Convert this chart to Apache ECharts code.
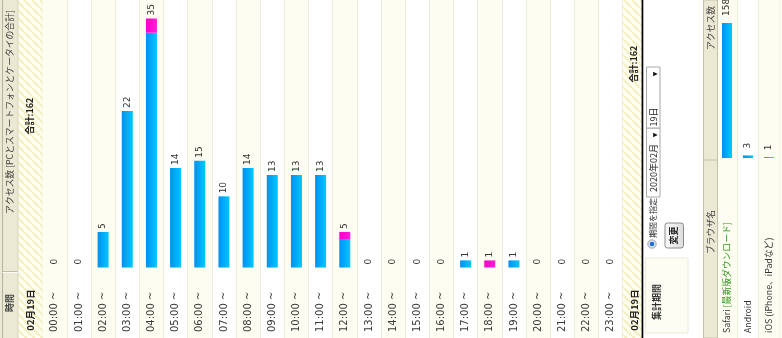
<!DOCTYPE html>
<html><head><meta charset="utf-8">
<script src="https://cdn.jsdelivr.net/npm/echarts@6/dist/echarts.min.js"></script>
<style>html,body{margin:0;padding:0;background:#fff}#c{width:782px;height:338px}</style>
</head><body><div id="c"></div>
<script>
// ---- data ----
const hours = ['00:00 ~','01:00 ~','02:00 ~','03:00 ~','04:00 ~','05:00 ~','06:00 ~','07:00 ~','08:00 ~','09:00 ~','10:00 ~','11:00 ~','12:00 ~','13:00 ~','14:00 ~','15:00 ~','16:00 ~','17:00 ~','18:00 ~','19:00 ~','20:00 ~','21:00 ~','22:00 ~','23:00 ~'];
const pcValues     = [0,0,5,22,33,14,15,10,14,13,13,13,4,0,0,0,0,1,0,1,0,0,0,0];
const mobileValues = [0,0,0,0,2,0,0,0,0,0,0,0,1,0,0,0,0,0,1,0,0,0,0,0];
const browsers = ['Safari [最新版ダウンロード]','Android','iOS (iPhone、iPadなど)'];
const browserValues = [158,3,1];
const dateText = '02月19日';
const headerTexts = ['時間','アクセス数 [PCとスマートフォンとケータイの合計]','ブラウザ名','アクセス数','集計期間','期間を指定','2020年02月','19日','変更'];

// ---- derived ----
const totals = pcValues.map((v,i)=>v+mobileValues[i]);
const grandTotal = totals.reduce((a,b)=>a+b,0);
const totalText = '合計:' + grandTotal;

const FONT = '"DejaVu Sans","Noto Sans CJK JP",sans-serif';
const JFONT = '"Noto Sans CJK JP",sans-serif';
const blueGrad = {type:'linear',x:0,y:0,x2:1,y2:0,colorStops:[{offset:0,color:'#0090f0'},{offset:1,color:'#00c8ff'}]};
const pinkGrad = {type:'linear',x:0,y:0,x2:1,y2:0,colorStops:[{offset:0,color:'#ff00c8'},{offset:1,color:'#ff20d8'}]};

function hatch(){
  const c=document.createElement('canvas');c.width=8;c.height=8;
  const g=c.getContext('2d');g.fillStyle='#fffff3';g.fillRect(0,0,8,8);
  g.strokeStyle='#f5f0c4';g.lineWidth=2.4;g.beginPath();
  for(const k of [-8,0,8]){g.moveTo(k,0);g.lineTo(k+8,8);}
  g.stroke();return c;
}
const hatchFill = {image:hatch(),repeat:'repeat'};

function vtext(x,y,text,opt){
  return {type:'text',x:x,y:y,rotation:Math.PI/2,z:10,
    style:Object.assign({text:text,font:'9px '+JFONT,fill:'#333',align:'center',verticalAlign:'middle'},opt||{})};
}
function rect(x,y,w,h,fill,stroke,extra){
  return Object.assign({type:'rect',shape:{x:x,y:y,width:w,height:h},z:1,style:{fill:fill,stroke:stroke||null,lineWidth:1}},extra||{});
}
function line(x1,y1,x2,y2,color,w){
  return {type:'line',z:2,shape:{x1:x1,y1:y1,x2:x2,y2:y2},style:{stroke:color,lineWidth:w||1}};
}

const graphics = [
  // left header column
  rect(0,0,18.3,338,'#ebe9d4'),
  line(2.5,0,2.5,338,'#b5b3a0'),
  line(18,0,18,338,'#d5d3bd'),
  line(2.5,271.5,18,271.5,'#c0bea8'),
  line(2.5,272.5,18,272.5,'#fbfaf0'),
  vtext(10,303,headerTexts[0],{font:'bold 9px '+JFONT,fill:'#444'}),
  vtext(10,112,headerTexts[1],{font:'8.8px '+JFONT,fill:'#444'}),
  // hatched date columns
  rect(18.5,0,24.2,338,hatchFill),
  rect(622.7,0,19,338,hatchFill),
  vtext(30,310,dateText,{font:'bold 9.5px '+JFONT,fill:'#222'}),
  vtext(30,116,totalText,{font:'bold 9px '+JFONT,fill:'#222'}),
  vtext(634,310,dateText,{font:'bold 9.5px '+JFONT,fill:'#222'}),
  vtext(634,64,totalText,{font:'bold 9px '+JFONT,fill:'#222'}),
  // black separator
  rect(641.6,0,1.7,338,'#000'),
  // period settings
  rect(645.5,258,42.5,75,'#fdfdf3','#ecebdc'),
  vtext(656.5,302,headerTexts[4],{font:'bold 9px '+JFONT,fill:'#333'}),
  {type:'circle',z:3,shape:{cx:652,cy:244,r:4.2},style:{fill:'#dfe6ee',stroke:'#9aa6b4',lineWidth:1}},
  {type:'circle',z:4,shape:{cx:652,cy:244,r:2.3},style:{fill:'#1f6fd0'}},
  vtext(652.5,218,headerTexts[5],{font:'8px '+JFONT,fill:'#333'}),
  rect(646.5,128,13.5,69,'#fff','#a8a8a8'),
  rect(646.5,67,13.5,61,'#fff','#a8a8a8'),
  vtext(654,168,headerTexts[6],{font:'9px '+JFONT,fill:'#222'}),
  vtext(654,117,headerTexts[7],{font:'9px '+JFONT,fill:'#222'}),
  vtext(655,135,'▼',{font:'6px '+FONT,fill:'#111'}),
  vtext(655,74,'▼',{font:'6px '+FONT,fill:'#111'}),
  {type:'rect',z:3,shape:{x:665,y:223,width:18.5,height:25,r:2.5},
    style:{fill:{type:'linear',x:0,y:0,x2:1,y2:0,colorStops:[{offset:0,color:'#fbfbfb'},{offset:1,color:'#dcdcdc'}]},stroke:'#8a8a8a',lineWidth:1}},
  vtext(674,235.5,headerTexts[8],{font:'bold 9px '+JFONT,fill:'#222'}),
  // browser table header
  rect(703.5,0,14,338,'#ebe9d4','#c4c2ac'),
  line(703.5,160,717.5,160,'#c4c2ac'),
  vtext(710.5,232,headerTexts[2],{font:'8.8px '+JFONT,fill:'#444'}),
  vtext(710.5,28,headerTexts[3],{font:'8.8px '+JFONT,fill:'#444'}),
  rect(779.5,0,3,338,'#fdfdf2')
];

const hourAxisBase = {type:'category',data:hours,boundaryGap:true,axisLine:{show:false},axisTick:{show:false}};
const browserAxisBase = {type:'category',data:browsers,boundaryGap:true,axisLine:{show:false},axisTick:{show:false}};

const option = {
  animation:false,
  backgroundColor:'#ffffff',
  grid:[
    {left:42.7,width:580,top:0,bottom:0},
    {left:42.7,width:580,top:0,bottom:70.5},
    {left:716.5,width:63,top:0,bottom:0},
    {left:716.5,width:63,top:23,bottom:180}
  ],
  xAxis:[
    Object.assign({},hourAxisBase,{gridIndex:0,axisLabel:{show:false},
      splitLine:{show:true,interval:0,lineStyle:{color:'#eeeddc',width:1}},
      splitArea:{show:true,interval:0,areaStyle:{color:['#fdfdf1','#ffffff']}}}),
    Object.assign({},hourAxisBase,{gridIndex:1,
      axisLabel:{interval:0,rotate:90,align:'left',verticalAlign:'middle',margin:64.5,fontSize:10,fontFamily:FONT,color:'#3a3a3a'}}),
    Object.assign({},browserAxisBase,{gridIndex:2,axisLabel:{show:false},
      splitLine:{show:true,interval:0,lineStyle:{color:'#eeeddc',width:1}},
      splitArea:{show:true,interval:0,areaStyle:{color:['#fdfdf1','#ffffff']}}}),
    Object.assign({},browserAxisBase,{gridIndex:3,
      axisLabel:{interval:0,rotate:90,align:'left',verticalAlign:'middle',margin:175,fontSize:8.8,fontFamily:JFONT,color:'#333',
        formatter:function(v){const m=v.match(/^(\S+)\s(\[.*\])$/);return m?'{n|'+m[1]+'} {g|'+m[2]+'}':'{n|'+v+'}';},
        rich:{n:{fontSize:8.8,fontFamily:JFONT,color:'#333'},g:{fontSize:8.8,fontFamily:JFONT,color:'#2f9a1a'}}}})
  ],
  yAxis:[
    {type:'value',gridIndex:0,show:false,min:0,max:1},
    {type:'value',gridIndex:1,show:false,min:0,max:37.6},
    {type:'value',gridIndex:2,show:false,min:0,max:1},
    {type:'value',gridIndex:3,show:false,min:0,max:158}
  ],
  graphic:{elements:graphics},
  series:[
    {name:'PC',type:'bar',xAxisIndex:1,yAxisIndex:1,stack:'h',barWidth:11,data:pcValues,itemStyle:{color:blueGrad},silent:true},
    {name:'mobile',type:'bar',xAxisIndex:1,yAxisIndex:1,stack:'h',barWidth:11,data:mobileValues,itemStyle:{color:pinkGrad},silent:true},
    {name:'total',type:'bar',xAxisIndex:1,yAxisIndex:1,stack:'h',barWidth:11,data:totals.map(()=>0),itemStyle:{color:'transparent'},silent:true,
      label:{show:true,position:'top',rotate:90,align:'left',verticalAlign:'middle',distance:3,fontSize:9,fontFamily:FONT,color:'#333',
        formatter:function(p){return String(totals[p.dataIndex]);}}},
    {name:'browser',type:'bar',xAxisIndex:3,yAxisIndex:3,barWidth:10,data:browserValues,itemStyle:{color:blueGrad},silent:true,
      label:{show:true,position:'top',rotate:90,align:'left',verticalAlign:'middle',distance:7,fontSize:9,fontFamily:FONT,color:'#333'}}
  ]
};
const chart = echarts.init(document.getElementById('c'),null,{renderer:'canvas'});
chart.setOption(option);
</script>
</body></html>
